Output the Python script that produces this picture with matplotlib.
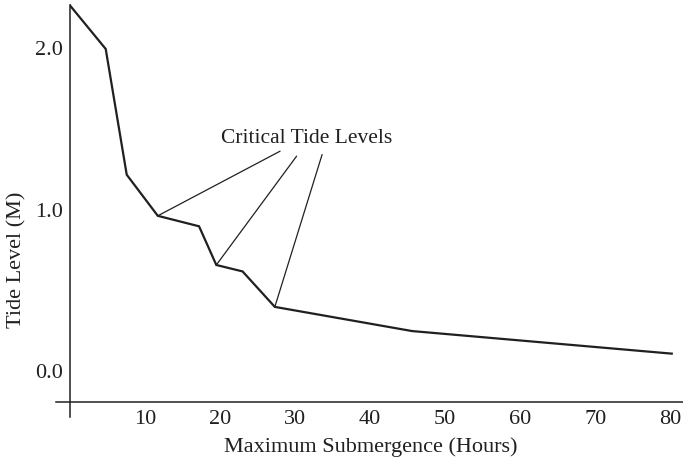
import matplotlib.pyplot as plt

# datos
horas = [0, 4.76, 7.56, 11.7, 17.2, 19.5, 23.0, 27.3, 45.6, 80.2]
nivel = [2.26, 1.99, 1.21, 0.955, 0.89, 0.65, 0.61, 0.39, 0.24, 0.10]

# niveles criticos (indices de los puntos) y origen de las lineas guia
criticos = [3, 5, 7]
guia_x = [28.0, 30.2, 33.6]
guia_y = [1.356, 1.325, 1.335]

xticks = [10, 20, 30, 40, 50, 60, 70, 80]
yticks = [0.0, 1.0, 2.0]

color = '#231f20'
plt.rcParams['font.family'] = ['Liberation Serif', 'DejaVu Serif']

fig = plt.figure(figsize=(6.83, 4.64), dpi=100)
ax = fig.add_axes([70 / 683, 61 / 464, 613 / 683, 403 / 464])

ax.plot(horas, nivel, color=color, lw=1.6, solid_joinstyle='miter')

for i, gx, gy in zip(criticos, guia_x, guia_y):
    ax.annotate('', xy=(horas[i], nivel[i]), xytext=(gx, gy),
                arrowprops=dict(arrowstyle='-', color=color, lw=0.9,
                                shrinkA=0, shrinkB=0))

ax.text(31.6, 1.44, 'Critical Tide Levels', ha='center', va='center',
        fontsize=15.5, color=color)

ax.set_xlim(0, 81.7)
ax.set_ylim(-0.2, 2.30)

ax.set_xticks(xticks)
ax.set_yticks(yticks)
ax.set_yticklabels(['0.0', '1.0', '2.0'])
ax.tick_params(length=0, labelsize=16, colors=color)
ax.tick_params(axis='y', pad=5)
ax.tick_params(axis='x', pad=5)

for s in ['top', 'right']:
    ax.spines[s].set_visible(False)
ax.spines['left'].set_bounds(-0.29, 2.26)
ax.spines['bottom'].set_bounds(-1.9, 81.7)
for s in ['left', 'bottom']:
    ax.spines[s].set_color(color)
    ax.spines[s].set_linewidth(1.1)

ax.set_xlabel('Maximum Submergence (Hours)', fontsize=16, color=color)
ax.set_ylabel('Tide Level (M)', fontsize=16, color=color)
ax.xaxis.set_label_coords(301 / 613, -34 / 403)
ax.yaxis.set_label_coords(-44 / 613, (403 - 260) / 403)

plt.savefig('out.png', dpi=100)
plt.close()
